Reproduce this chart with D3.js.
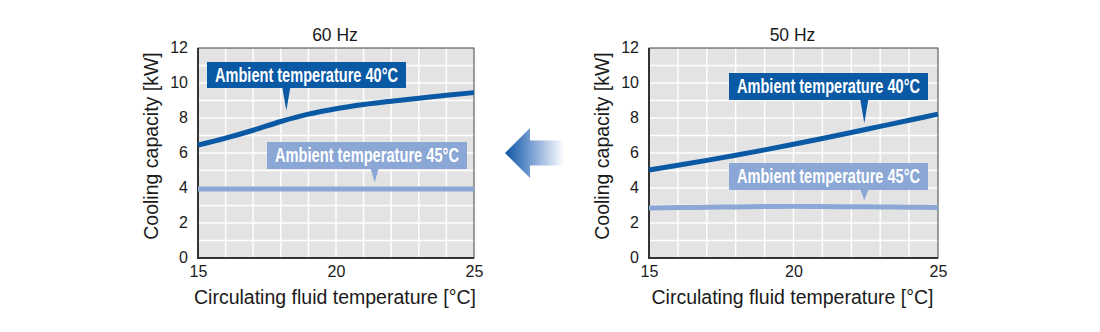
<!DOCTYPE html>
<html>
<head>
<meta charset="utf-8">
<script src="https://cdn.jsdelivr.net/npm/d3@7/dist/d3.min.js"></script>
<style>
  html, body { margin: 0; padding: 0; background: #fff; }
  svg { display: block; }
  text { font-family: "Liberation Sans", Arial, Helvetica, sans-serif; fill: #1a1a1a; }
</style>
</head>
<body>
<svg id="chart" width="1100" height="332"></svg>
<script>
// Circulating fluid temperature (°C) sample points
const fluidTemps = [15, 16, 17, 18, 19, 20, 21, 22, 23, 24, 25];

// Cooling capacity (kW), 60 Hz supply
const cap60Amb40 = [6.45, 6.85, 7.3, 7.8, 8.22, 8.53, 8.77, 8.96, 9.13, 9.3, 9.45];
const cap60Amb45 = [3.95, 3.95, 3.95, 3.95, 3.95, 3.95, 3.95, 3.95, 3.95, 3.95, 3.95];

// Cooling capacity (kW), 50 Hz supply
const cap50Amb40 = [5.03, 5.3, 5.58, 5.87, 6.18, 6.5, 6.83, 7.17, 7.52, 7.87, 8.22];
const cap50Amb45 = [2.86, 2.88, 2.9, 2.92, 2.94, 2.95, 2.94, 2.93, 2.92, 2.9, 2.89];

// Axis ticks
const xTicks = [15, 20, 25];
const yTicks = [0, 2, 4, 6, 8, 10, 12];

// Text
const panelTitles = ["60 Hz", "50 Hz"];
const seriesLabels = ["Ambient temperature 40\u00b0C", "Ambient temperature 45\u00b0C"];
const xTitle = "Circulating fluid temperature [\u00b0C]";
const yTitle = "Cooling capacity [kW]";

const DARK = "#0a59a5";
const LIGHT = "#8ba7d5";

const svg = d3.select("#chart");

// Left-pointing gradient arrow between the panels
const defs = svg.append("defs");
const grad = defs.append("linearGradient").attr("id", "arrowGrad")
  .attr("x1", "0%").attr("x2", "100%").attr("y1", "0%").attr("y2", "0%");
grad.append("stop").attr("offset", "0%").attr("stop-color", "#0a55a3");
grad.append("stop").attr("offset", "45%").attr("stop-color", "#7a9fd2");
grad.append("stop").attr("offset", "100%").attr("stop-color", "#ffffff");
svg.append("path")
  .attr("d", "M505,153 L530,128 L530,140.5 L564,140.5 L564,165.5 L530,165.5 L530,178 Z")
  .attr("fill", "url(#arrowGrad)");

// Panel layouts: plot rectangle plus label box placement
const panels = [
  {
    title: panelTitles[0], left: 198, right: 474, top: 48, bottom: 258,
    series: [cap60Amb40, cap60Amb45],
    boxes: [
      { x: 207, y: 62, w: 199, h: 26, at: 18.2, gap: 7 },
      { x: 267, y: 142, w: 200, h: 27, at: 21.4, gap: 4 }
    ]
  },
  {
    title: panelTitles[1], left: 649, right: 938, top: 48, bottom: 258,
    series: [cap50Amb40, cap50Amb45],
    boxes: [
      { x: 729, y: 73, w: 199, h: 27, at: 22.45, gap: 4 },
      { x: 729, y: 163, w: 199, h: 27, at: 22.45, gap: 4 }
    ]
  }
];

panels.forEach(p => {
  const x = d3.scaleLinear().domain([15, 25]).range([p.left, p.right]);
  const y = d3.scaleLinear().domain([0, 12]).range([p.bottom, p.top]);
  const g = svg.append("g");

  // Plot background
  g.append("rect")
    .attr("x", p.left).attr("y", p.top)
    .attr("width", p.right - p.left).attr("height", p.bottom - p.top)
    .attr("fill", "#e3e3e3");

  // White grid every 1 unit
  g.append("g").selectAll("line").data(d3.range(16, 25)).join("line")
    .attr("x1", d => x(d)).attr("x2", d => x(d))
    .attr("y1", p.top).attr("y2", p.bottom)
    .attr("stroke", "#fff").attr("stroke-width", 1.4);
  g.append("g").selectAll("line").data(d3.range(1, 12)).join("line")
    .attr("y1", d => y(d)).attr("y2", d => y(d))
    .attr("x1", p.left).attr("x2", p.right)
    .attr("stroke", "#fff").attr("stroke-width", 1.4);

  // Frame
  g.append("rect")
    .attr("x", p.left).attr("y", p.top)
    .attr("width", p.right - p.left).attr("height", p.bottom - p.top)
    .attr("fill", "none").attr("stroke", "#444").attr("stroke-width", 1);
  g.append("path")
    .attr("d", `M${p.left},${p.top} V${p.bottom} H${p.right}`)
    .attr("fill", "none").attr("stroke", "#333").attr("stroke-width", 2);

  // Axes tick labels
  const xAxis = g.append("g").attr("transform", `translate(0,${p.bottom})`)
    .call(d3.axisBottom(x).tickValues(xTicks).tickSize(0).tickPadding(8).tickFormat(d3.format("d")));
  const yAxis = g.append("g").attr("transform", `translate(${p.left},0)`)
    .call(d3.axisLeft(y).tickValues(yTicks).tickSize(0).tickPadding(10).tickFormat(d3.format("d")));
  [xAxis, yAxis].forEach(a => {
    a.select(".domain").remove();
    a.selectAll("text").attr("font-size", 16).attr("fill", "#1a1a1a")
      .attr("font-family", "'Liberation Sans', Arial, sans-serif");
  });
  yAxis.selectAll("text").attr("dy", "0.3em");

  // Lines
  const line = d3.line()
    .x((d, i) => x(fluidTemps[i]))
    .y(d => y(d))
    .curve(d3.curveMonotoneX);
  [LIGHT, DARK].forEach((col, k) => {
    const idx = 1 - k;
    g.append("path")
      .attr("d", line(p.series[idx]))
      .attr("fill", "none").attr("stroke", col)
      .attr("stroke-width", 5).attr("stroke-linecap", "butt");
  });

  // Labelled call-out boxes with pointers
  p.boxes.forEach((b, k) => {
    const col = k === 0 ? DARK : LIGHT;
    const vals = p.series[k];
    const valAt = d3.scaleLinear().domain(fluidTemps).range(vals)(b.at);
    const tipX = x(b.at);
    const tipY = y(valAt) - 2.5 - b.gap;
    g.append("rect").attr("x", b.x).attr("y", b.y)
      .attr("width", b.w).attr("height", b.h).attr("fill", col);
    g.append("path")
      .attr("d", `M${tipX - 4},${b.y + b.h - 0.5} L${tipX + 4},${b.y + b.h - 0.5} L${tipX},${tipY} Z`)
      .attr("fill", col);
    g.append("text")
      .attr("x", b.x + 8).attr("y", b.y + b.h / 2 + 6.5)
      .attr("font-size", 19.5).attr("font-weight", "bold")
      .attr("textLength", b.w - 16).attr("lengthAdjust", "spacingAndGlyphs")
      .style("fill", "#fff")
      .text(seriesLabels[k]);
  });

  // Titles
  g.append("text")
    .attr("x", (p.left + p.right) / 2 - 1).attr("y", 41)
    .attr("text-anchor", "middle").attr("font-size", 17.5)
    .text(p.title);
  g.append("text")
    .attr("x", (p.left + p.right) / 2 - 1).attr("y", 304)
    .attr("text-anchor", "middle").attr("font-size", 19.5)
    .text(xTitle);
  g.append("text")
    .attr("transform", `translate(${p.left - 40},${(p.top + p.bottom) / 2 - 7}) rotate(-90)`)
    .attr("text-anchor", "middle").attr("font-size", 19.5)
    .text(yTitle);
});
</script>
</body>
</html>
